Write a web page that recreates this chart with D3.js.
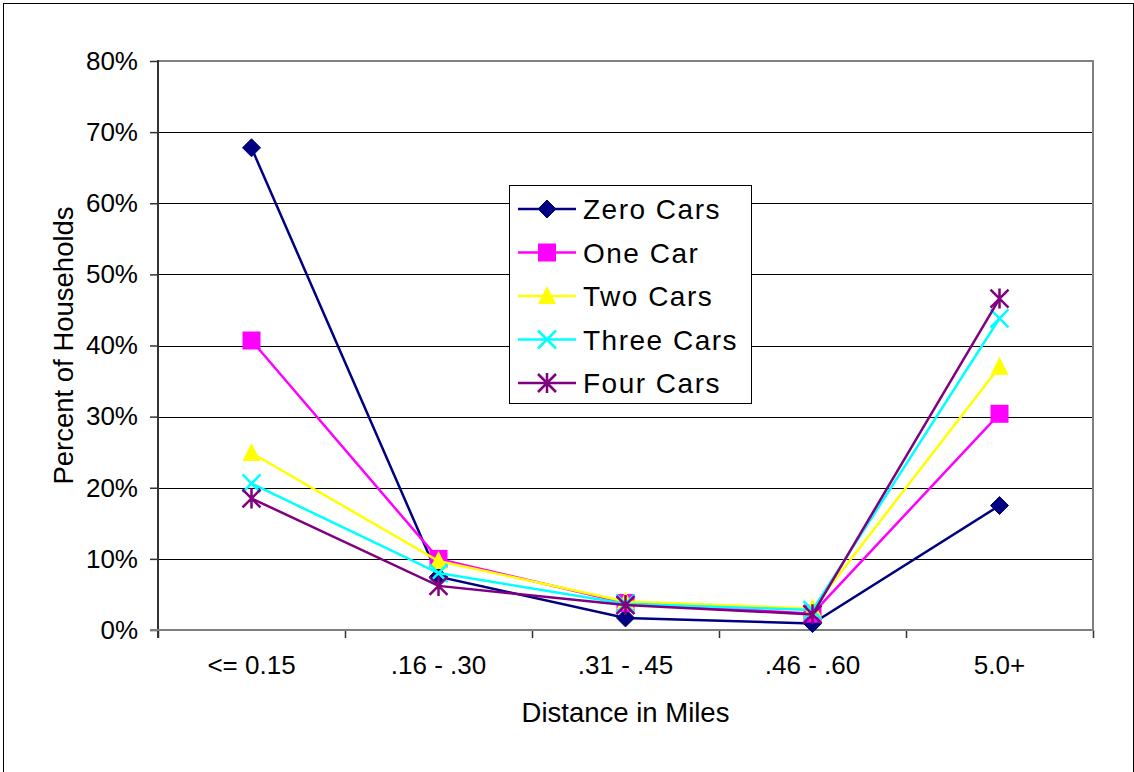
<!DOCTYPE html>
<html>
<head>
<meta charset="utf-8">
<script src="https://cdn.jsdelivr.net/npm/d3@7"></script>
<style>
  body { margin: 0; background: #fff; }
  text { font-family: "Liberation Sans", Arial, sans-serif; fill: #000; }
</style>
</head>
<body>
<svg id="chart" width="1134" height="772"></svg>
<script>
/* chart data */
var categories = ['<= 0.15', '.16 - .30', '.31 - .45', '.46 - .60', '5.0+'];
var seriesNames = ['Zero Cars', 'One Car', 'Two Cars', 'Three Cars', 'Four Cars'];
var zeroCars  = [67.8, 7.5, 1.7, 0.9, 17.5];
var oneCar    = [40.7, 10.0, 3.8, 2.3, 30.4];
var twoCars   = [24.9, 9.7, 4.0, 3.0, 37.0];
var threeCars = [20.6, 8.0, 3.7, 2.8, 43.8];
var fourCars  = [18.5, 6.2, 3.5, 2.2, 46.6];
var yTicks = [0, 10, 20, 30, 40, 50, 60, 70, 80];

var seriesColors = ['#000080', '#ff00ff', '#ffff00', '#00ffff', '#800080'];
var seriesMarkers = ['diamond', 'square', 'triangle', 'x', 'star'];
var seriesValues = [zeroCars, oneCar, twoCars, threeCars, fourCars];

var svg = d3.select('#chart');
var plotLeft = 158, plotRight = 1093, plotTop = 61, plotBottom = 630;

// outer chart border
svg.append('rect')
   .attr('x', 3.5).attr('y', 3.5)
   .attr('width', 1130).attr('height', 800)
   .attr('fill', 'none').attr('stroke', '#000').attr('stroke-width', 1);

var x = d3.scaleBand().domain(categories).range([plotLeft, plotRight]).padding(0);
var xEdge = d3.scaleLinear().domain([0, categories.length]).range([plotLeft, plotRight]);
var y = d3.scaleLinear().domain([0, 80]).range([plotBottom, plotTop]);

// gridlines
svg.append('g').selectAll('line')
   .data(yTicks.filter(function(t) { return t > 0 && t < 80; }))
   .enter().append('line')
   .attr('x1', plotLeft).attr('x2', plotRight)
   .attr('y1', function(d) { return Math.round(y(d)) + 0.5; })
   .attr('y2', function(d) { return Math.round(y(d)) + 0.5; })
   .attr('stroke', '#000').attr('stroke-width', 1);

// plot area border (top + right)
svg.append('path')
   .attr('d', 'M' + plotLeft + ',' + plotTop + 'H' + plotRight + 'V' + plotBottom)
   .attr('fill', 'none').attr('stroke', '#808080').attr('stroke-width', 2);

// y axis
var yAxis = svg.append('g')
   .attr('transform', 'translate(' + plotLeft + ',0)')
   .call(d3.axisLeft(y).tickValues(yTicks).tickSize(8).tickPadding(12)
         .tickFormat(function(d) { return d + '%'; }));
yAxis.select('.domain').remove();
yAxis.selectAll('.tick line').attr('stroke', '#333').attr('stroke-width', 1.5);
yAxis.selectAll('text').style('font-size', '26px');
svg.append('line')
   .attr('x1', plotLeft).attr('x2', plotLeft).attr('y1', plotTop - 1).attr('y2', plotBottom + 8)
   .attr('stroke', '#333').attr('stroke-width', 2);

// x axis: boundary ticks + centred labels
var xTicks = svg.append('g')
   .attr('transform', 'translate(0,' + plotBottom + ')')
   .call(d3.axisBottom(xEdge).ticks(categories.length).tickSize(8).tickFormat(''));
xTicks.select('.domain').remove();
xTicks.selectAll('.tick line').attr('stroke', '#333').attr('stroke-width', 1.5);

var xAxis = svg.append('g')
   .attr('transform', 'translate(0,' + plotBottom + ')')
   .call(d3.axisBottom(x).tickSize(0).tickPadding(26));
xAxis.select('.domain').remove();
xAxis.selectAll('text').style('font-size', '26px');

svg.append('line')
   .attr('x1', plotLeft - 8).attr('x2', plotRight + 1).attr('y1', plotBottom).attr('y2', plotBottom)
   .attr('stroke', '#808080').attr('stroke-width', 2);

// axis titles
svg.append('text')
   .attr('x', (plotLeft + plotRight) / 2).attr('y', 722)
   .attr('text-anchor', 'middle')
   .style('font-size', '27.5px')
   .text('Distance in Miles');

svg.append('text')
   .attr('transform', 'translate(73,' + ((plotTop + plotBottom) / 2) + ') rotate(-90)')
   .attr('text-anchor', 'middle')
   .style('font-size', '27.5px')
   .text('Percent of Households');

// marker drawing
function drawMarker(g, type, color) {
  var s = 9;
  if (type == 'diamond') {
    g.append('path').attr('d', 'M0,' + (-s) + 'L' + s + ',0L0,' + s + 'L' + (-s) + ',0Z')
     .attr('fill', color).attr('stroke', color).attr('stroke-width', 1);
  } else if (type == 'square') {
    g.append('rect').attr('x', -s).attr('y', -s).attr('width', 2 * s).attr('height', 2 * s)
     .attr('fill', color);
  } else if (type == 'triangle') {
    g.append('path').attr('d', 'M0,' + (-s - 1) + 'L' + s + ',' + (s - 1) + 'L' + (-s) + ',' + (s - 1) + 'Z')
     .attr('fill', color);
  } else if (type == 'x') {
    g.append('path').attr('d', 'M' + (-s) + ',' + (-s) + 'L' + s + ',' + s + 'M' + s + ',' + (-s) + 'L' + (-s) + ',' + s)
     .attr('stroke', color).attr('stroke-width', 2.5).attr('fill', 'none');
  } else if (type == 'star') {
    g.append('path').attr('d', 'M' + (-s) + ',' + (-s) + 'L' + s + ',' + s + 'M' + s + ',' + (-s) + 'L' + (-s) + ',' + s + 'M0,' + (-s - 1) + 'L0,' + (s + 1))
     .attr('stroke', color).attr('stroke-width', 2.5).attr('fill', 'none');
  }
}

var line = d3.line()
   .x(function(d, i) { return x(categories[i]) + x.bandwidth() / 2; })
   .y(function(d) { return y(d); });

seriesValues.forEach(function(vals, si) {
  var g = svg.append('g').attr('class', 'series');
  g.append('path')
   .datum(vals)
   .attr('d', line)
   .attr('fill', 'none')
   .attr('stroke', seriesColors[si])
   .attr('stroke-width', 2.5);
  vals.forEach(function(v, i) {
    var m = g.append('g')
       .attr('transform', 'translate(' + (x(categories[i]) + x.bandwidth() / 2) + ',' + y(v) + ')');
    drawMarker(m, seriesMarkers[si], seriesColors[si]);
  });
});

// legend
var legend = svg.append('g');
legend.append('rect')
   .attr('x', 509.5).attr('y', 185.5).attr('width', 242).attr('height', 218)
   .attr('fill', '#fff').attr('stroke', '#000').attr('stroke-width', 1);

seriesNames.forEach(function(name, i) {
  var ly = 209 + i * 43.5;
  var row = legend.append('g');
  row.append('line')
     .attr('x1', 518).attr('x2', 576).attr('y1', ly).attr('y2', ly)
     .attr('stroke', seriesColors[i]).attr('stroke-width', 2.5);
  drawMarker(row.append('g').attr('transform', 'translate(547,' + ly + ')'), seriesMarkers[i], seriesColors[i]);
  row.append('text')
     .attr('x', 583).attr('y', ly + 10)
     .style('font-size', '28px')
     .style('letter-spacing', '1.5px')
     .text(name);
});
</script>
</body>
</html>
